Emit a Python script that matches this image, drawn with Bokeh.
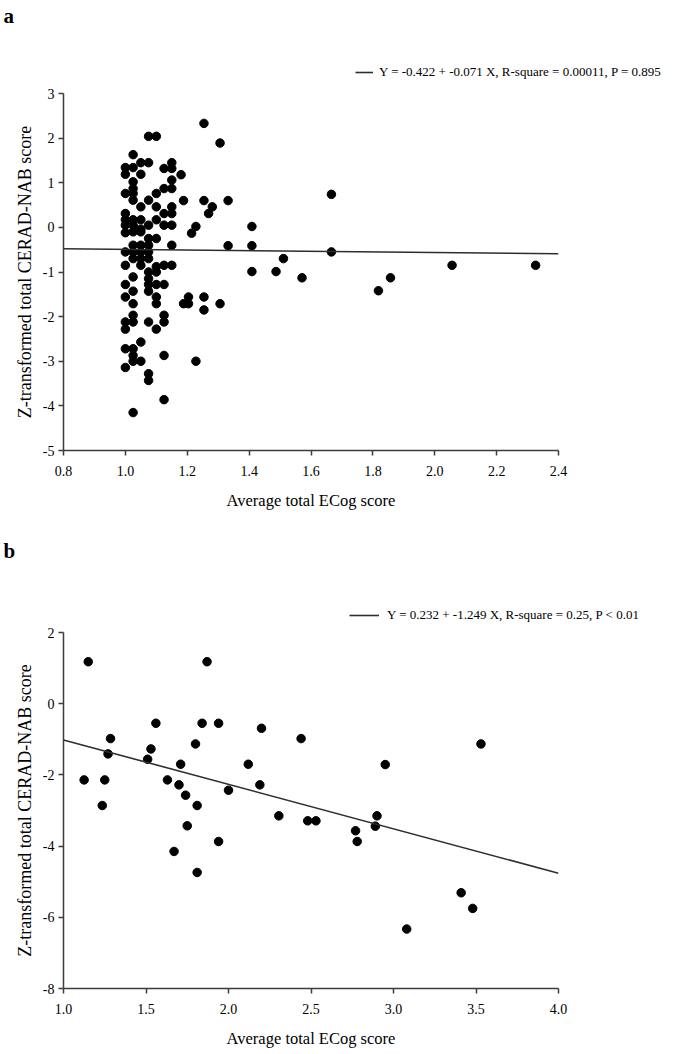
import numpy as np
from bokeh.plotting import figure
from bokeh.models import (Range1d, FixedTicker, NumeralTickFormatter, Legend,
                          LegendItem, Label, Title)
from bokeh.layouts import column, row
from bokeh.core.properties import value
from bokeh.embed import file_html
from bokeh.resources import INLINE

FONT = "Liberation Serif"

# ---------------- Panel a data ----------------
ecog_a = ([1.00] * 15 + [1.025] * 21 + [1.05] * 12 + [1.075] * 15 + [1.10] * 11 +
          [1.125] * 10 + [1.15] * 9 +
          [1.254, 1.306, 1.180, 1.188, 1.254, 1.332, 1.281, 1.269, 1.228, 1.214,
           1.666, 1.332, 1.409, 1.409, 1.511, 1.666, 1.409, 1.487, 1.571, 1.818,
           2.056, 2.326, 1.857, 1.204, 1.188, 1.204, 1.254, 1.254, 1.306, 1.228])
cerad_a = ([1.34, 1.19, 0.76, 0.31, 0.17, 0.05, -0.12, -0.55, -0.85, -1.28, -1.56, -2.12, -2.28, -2.72, -3.14] +
           [1.63, 1.34, 1.02, 0.87, 0.76, 0.61, 0.17, 0.05, -0.10, -0.40, -0.55, -0.70, -1.11, -1.43, -1.71,
            -1.97, -2.12, -2.72, -2.87, -3.00, -4.15] +
           [1.45, 1.19, 0.46, 0.17, -0.04, -0.10, -0.40, -0.55, -0.70, -0.85, -2.57, -3.00] +
           [2.04, 1.45, 0.61, 0.05, -0.25, -0.40, -0.55, -0.70, -1.00, -1.15, -1.28, -1.43, -2.12, -3.28, -3.43] +
           [2.04, 0.76, 0.46, 0.17, -0.25, -0.88, -1.00, -1.28, -1.56, -1.71, -2.28] +
           [1.32, 0.87, 0.31, 0.05, -0.85, -1.28, -1.97, -2.12, -2.87, -3.86] +
           [1.45, 1.32, 1.06, 0.87, 0.46, 0.31, 0.05, -0.40, -0.85] +
           [2.33, 1.89, 1.18, 0.60, 0.60, 0.60, 0.46, 0.31, 0.02, -0.13,
            0.74, -0.41, 0.02, -0.41, -0.70, -0.55, -0.99, -0.99, -1.13, -1.42,
            -0.85, -0.85, -1.13, -1.56, -1.71, -1.71, -1.56, -1.85, -1.71, -3.00])
intercept_a, slope_a = -0.422, -0.071
legend_a = "Y = -0.422 + -0.071 X, R-square = 0.00011, P = 0.895"
xticks_a = [0.8, 1.0, 1.2, 1.4, 1.6, 1.8, 2.0, 2.2, 2.4]
yticks_a = [-5, -4, -3, -2, -1, 0, 1, 2, 3]

# ---------------- Panel b data ----------------
ecog_b = [1.15, 1.87, 1.56, 1.84, 1.94, 2.20, 2.44, 1.285, 1.80, 1.27,
          1.53, 1.51, 1.71, 2.12, 1.125, 1.25, 1.63, 1.70, 2.19, 2.00,
          1.74, 1.235, 1.81, 2.305, 2.48, 2.53, 1.75, 1.94, 1.67, 1.81,
          3.53, 2.95, 2.90, 2.89, 2.77, 2.78, 3.41, 3.48, 3.08]
cerad_b = [1.18, 1.18, -0.55, -0.55, -0.55, -0.69, -0.98, -0.98, -1.13, -1.41,
           -1.27, -1.56, -1.70, -1.70, -2.14, -2.14, -2.14, -2.28, -2.28, -2.43,
           -2.57, -2.86, -2.86, -3.15, -3.29, -3.29, -3.43, -3.87, -4.15, -4.74,
           -1.13, -1.71, -3.15, -3.44, -3.57, -3.87, -5.31, -5.75, -6.33]
intercept_b, slope_b = 0.232, -1.249
legend_b = "Y = 0.232 + -1.249 X, R-square = 0.25, P < 0.01"
xticks_b = [1.0, 1.5, 2.0, 2.5, 3.0, 3.5, 4.0]
yticks_b = [-8, -6, -4, -2, 0, 2]

X_TITLE = "Average total ECog score"
Y_TITLE = "Z-transformed total CERAD-NAB score"
AXIS_COLOR = "#3c3c3c"
LINE_COLOR = "#2e2e2e"
W = 675


def header(letter, height, letter_base, leg_text, leg_loc, glyph_w, standoff):
    """Strip above a panel that holds the panel letter and the fit legend."""
    h = figure(width=W, height=height, output_backend="svg", toolbar_location=None,
               x_range=Range1d(0, W), y_range=Range1d(height, 0),
               x_axis_type=None, y_axis_type=None, min_border=0)
    h.outline_line_color = None
    h.grid.visible = False
    # legend-only proxy for the fit line (no visible data)
    proxy = h.line(x=np.array([np.nan, np.nan]), y=np.array([np.nan, np.nan]),
                   line_color=LINE_COLOR, line_width=1.6)
    leg = Legend(items=[LegendItem(label=value(leg_text), renderers=[proxy])],
                 location=leg_loc, padding=0, margin=0, spacing=0,
                 border_line_alpha=0, background_fill_alpha=0,
                 glyph_width=glyph_w, glyph_height=14, label_height=14,
                 label_standoff=standoff, label_text_font=FONT,
                 label_text_font_size="13px", label_text_color="black")
    h.add_layout(leg, "center")
    h.add_layout(Label(x=3, y=letter_base, text=letter, text_font=FONT,
                       text_font_size="21px", text_font_style="bold",
                       text_color="black", text_align="left",
                       text_baseline="alphabetic"))
    return h


def panel(xs, ys, b0, b1, xticks, yticks, title_shift, height, top, bottom):
    x0, x1 = xticks[0], xticks[-1]
    y0, y1 = yticks[0], yticks[-1]
    p = figure(width=W, height=height, output_backend="svg", toolbar_location=None,
               x_range=Range1d(x0, x1), y_range=Range1d(y0, y1),
               min_border_left=63, min_border_right=117,
               min_border_top=top, min_border_bottom=bottom)
    p.outline_line_color = None
    p.grid.visible = False

    p.scatter(x=xs, y=ys, size=8.5, color="black", marker="circle")
    p.line(x=[x0, x1], y=[b0 + b1 * x0, b0 + b1 * x1],
           line_color=LINE_COLOR, line_width=1.6)

    for ax in (p.xaxis[0], p.yaxis[0]):
        ax.axis_line_color = AXIS_COLOR
        ax.axis_line_width = 1.5
        ax.major_tick_line_color = AXIS_COLOR
        ax.major_tick_line_width = 1.5
        ax.major_tick_in = 0
        ax.major_tick_out = 5
        ax.minor_tick_line_color = None
        ax.major_label_text_font = FONT
        ax.major_label_text_font_size = "14px"
        ax.major_label_text_color = "black"
    p.xaxis.ticker = FixedTicker(ticks=xticks)
    p.yaxis.ticker = FixedTicker(ticks=yticks)
    p.xaxis.formatter = NumeralTickFormatter(format="0.0")
    p.yaxis.major_label_overrides = {t: str(t) for t in yticks}
    p.xaxis.major_label_standoff = 10
    p.yaxis.major_label_standoff = 4
    p.xaxis.axis_label = X_TITLE
    p.xaxis.axis_label_text_font = FONT
    p.xaxis.axis_label_text_font_size = "16.5px"
    p.xaxis.axis_label_text_font_style = "normal"
    p.xaxis.axis_label_text_color = "black"
    p.xaxis.axis_label_standoff = 12

    # y title as a left-side title, shifted along the axis as in the reference
    ytitle = Title(text=Y_TITLE, align="center", offset=title_shift, standoff=10,
                   text_font=FONT, text_font_size="18px", text_font_style="normal",
                   text_color="black")
    p.add_layout(ytitle, "left")
    return p


ha = header("a", 84, 15, legend_a, (355, 4), 18, 6)
pa = panel(ecog_a, cerad_a, intercept_a, slope_a, xticks_a, yticks_a, -11, 429, 9, 63)
hb = header("b", 110, 37, legend_b, (349, 0), 30, 8)
pb = panel(ecog_b, cerad_b, intercept_b, slope_b, xticks_b, yticks_b, 63, 429, 9, 64)

layout = column(row(ha), pa, row(hb), pb, spacing=0)
open("out.html", "w").write(file_html(layout, INLINE))
